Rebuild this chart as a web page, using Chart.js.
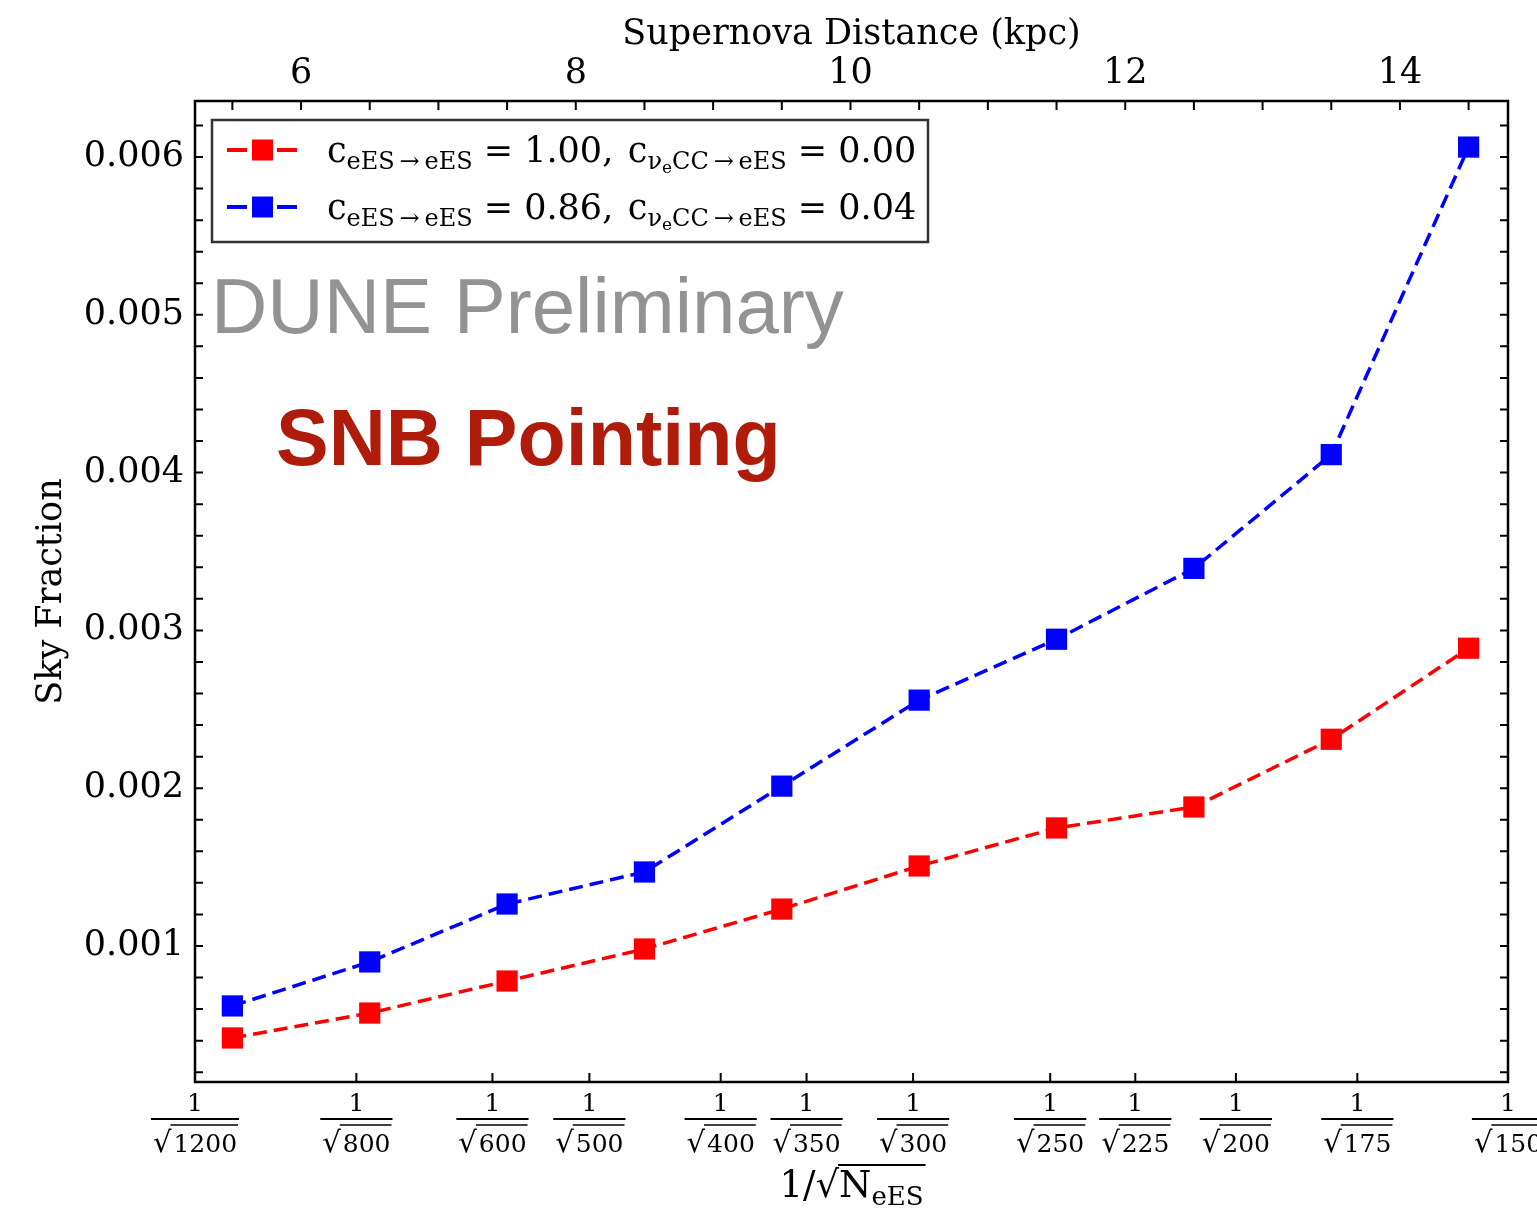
<!DOCTYPE html>
<html>
<head>
<meta charset="utf-8">
<title>SNB Pointing</title>
<script src="https://cdn.jsdelivr.net/npm/chart.js@4.4.0/dist/chart.umd.min.js"></script>
<style>
    html, body { margin: 0; padding: 0; background: #ffffff; }
    #chart-container { width: 1537px; height: 1208px; }
</style>
</head>
<body>
<div id="chart-container"><canvas id="skyChart" width="1537" height="1208"></canvas></div>
<script>
// supernova distance of each point (kpc)
const distanceKpc = [5.5, 6.5, 7.5, 8.5, 9.5, 10.5, 11.5, 12.5, 13.5, 14.5];
// sky fraction, c_eES->eES = 1.00, c_nueCC->eES = 0.00
const skyFractionRed = [0.000417, 0.000575, 0.000778, 0.000981, 0.001234, 0.001507, 0.001748, 0.001881, 0.00231, 0.002887];
// sky fraction, c_eES->eES = 0.86, c_nueCC->eES = 0.04
const skyFractionBlue = [0.00062, 0.000899, 0.001266, 0.001469, 0.002013, 0.002558, 0.002944, 0.003393, 0.004114, 0.006063];

const legendValues = [['1.00', '0.00'], ['0.86', '0.04']];
const seriesColors = ['#ff0000', '#0000ff'];

const topTickLabels = [6, 8, 10, 12, 14];
const yTickLabels = [0.001, 0.002, 0.003, 0.004, 0.005, 0.006];
const eventCounts = [1200, 800, 600, 500, 400, 350, 300, 250, 225, 200, 175, 150];

// distance = kpcPerInvSqrt / sqrt(N)
const kpcPerInvSqrt = 181.1;
const yRange = [0.000138, 0.006355];

const SERIF = '"DejaVu Serif", serif';

function drawRich(ctx, x, y, parts) {
    parts.forEach(function (p) {
        ctx.font = p.size + 'px ' + SERIF;
        ctx.fillText(p.t, x, y + (p.dy || 0));
        x += ctx.measureText(p.t).width;
    });
    return x;
}

const decorPlugin = {
    id: 'decor',
    afterDraw: function (chart) {
        const ctx = chart.ctx;
        const area = chart.chartArea;
        const xTop = chart.scales.x;
        const xBot = chart.scales.x2;
        const y = chart.scales.y;
        ctx.save();

        // inward ticks
        ctx.strokeStyle = '#000';
        ctx.lineWidth = 2;
        ctx.beginPath();
        xTop.ticks.forEach(function (t) {
            const px = xTop.getPixelForValue(t.value);
            ctx.moveTo(px, area.top);
            ctx.lineTo(px, area.top + 9);
        });
        xBot.ticks.forEach(function (t) {
            const px = xBot.getPixelForValue(t.value);
            ctx.moveTo(px, area.bottom);
            ctx.lineTo(px, area.bottom - 9);
        });
        y.ticks.forEach(function (t) {
            const py = y.getPixelForValue(t.value);
            ctx.moveTo(area.left, py);
            ctx.lineTo(area.left + 8, py);
            ctx.moveTo(area.right, py);
            ctx.lineTo(area.right - 8, py);
        });
        ctx.stroke();

        // frame
        ctx.lineWidth = 2.5;
        ctx.strokeRect(area.left, area.top, area.right - area.left, area.bottom - area.top);

        // bottom fraction labels 1/sqrt(N)
        ctx.fillStyle = '#000';
        ctx.textBaseline = 'alphabetic';
        eventCounts.forEach(function (n) {
            const px = xBot.getPixelForValue(1 / Math.sqrt(n));
            ctx.font = '25px ' + SERIF;
            const digitsW = ctx.measureText(String(n)).width;
            ctx.font = '29px ' + SERIF;
            const rootW = ctx.measureText('\u221A').width;
            const w = digitsW + rootW + 2;
            ctx.textAlign = 'center';
            ctx.font = '25px ' + SERIF;
            ctx.fillText('1', px, 1111);
            ctx.lineWidth = 2;
            ctx.beginPath();
            ctx.moveTo(px - w / 2 - 2, 1119);
            ctx.lineTo(px + w / 2 + 2, 1119);
            ctx.stroke();
            ctx.textAlign = 'left';
            const x0 = px - w / 2;
            ctx.font = '29px ' + SERIF;
            ctx.fillText('\u221A', x0, 1152);
            ctx.font = '25px ' + SERIF;
            ctx.fillText(String(n), x0 + rootW + 2, 1152);
            ctx.lineWidth = 1.5;
            ctx.beginPath();
            ctx.moveTo(x0 + rootW - 1, 1125);
            ctx.lineTo(x0 + w + 1, 1125);
            ctx.stroke();
        });

        // bottom axis title 1/sqrt(N_eES)
        ctx.textAlign = 'left';
        const nW = (function () {
            ctx.font = '37px ' + SERIF;
            let w = ctx.measureText('N').width;
            ctx.font = '26px ' + SERIF;
            return w + ctx.measureText('eES').width;
        })();
        ctx.font = '37px ' + SERIF;
        const preW = ctx.measureText('1/\u221A').width;
        const tx = (area.left + area.right) / 2 - (preW + nW) / 2;
        let cx = drawRich(ctx, tx, 1197, [{ t: '1/', size: 37 }, { t: '\u221A', size: 37 }]);
        const overStart = cx;
        cx = drawRich(ctx, cx, 1197, [{ t: 'N', size: 37 }, { t: 'eES', size: 26, dy: 8 }]);
        ctx.lineWidth = 2;
        ctx.beginPath();
        ctx.moveTo(overStart - 1, 1165);
        ctx.lineTo(cx + 2, 1165);
        ctx.stroke();

        // legend
        ctx.fillStyle = '#ffffff';
        ctx.fillRect(212, 120, 716, 122);
        ctx.strokeStyle = '#333333';
        ctx.lineWidth = 2.5;
        ctx.strokeRect(212, 120, 716, 122);
        [150, 207].forEach(function (rowY, i) {
            ctx.strokeStyle = seriesColors[i];
            ctx.fillStyle = seriesColors[i];
            ctx.lineWidth = 4;
            ctx.beginPath();
            ctx.moveTo(227, rowY);
            ctx.lineTo(247, rowY);
            ctx.moveTo(277, rowY);
            ctx.lineTo(297, rowY);
            ctx.stroke();
            ctx.fillRect(252, rowY - 10.5, 21, 21);
            ctx.fillStyle = '#000';
            const base = rowY + 12;
            drawRich(ctx, 327, base, [
                { t: 'c', size: 35 },
                { t: 'eES\u2009\u2192\u2009eES', size: 24, dy: 7 },
                { t: ' = ' + legendValues[i][0] + ', \u200Ac', size: 35 },
                { t: '\u03BD', size: 24, dy: 7 },
                { t: 'e', size: 17, dy: 11 },
                { t: 'CC\u2009\u2192\u2009eES', size: 24, dy: 7 },
                { t: ' = ' + legendValues[i][1], size: 35 }
            ]);
        });

        // annotations
        ctx.fillStyle = '#939393';
        ctx.font = '78px "Liberation Sans", Arial, sans-serif';
        ctx.fillText('DUNE Preliminary', 211, 333);
        ctx.fillStyle = '#b01c0c';
        ctx.font = 'bold 79px "Liberation Sans", Arial, sans-serif';
        ctx.fillText('SNB Pointing', 276, 465);

        ctx.restore();
    }
};

function makeSeries(label, values, color) {
    return {
        label: label,
        data: distanceKpc.map(function (d, i) { return { x: d, y: values[i] }; }),
        borderColor: color,
        backgroundColor: color,
        borderWidth: 3.5,
        borderDash: [14, 7],
        pointStyle: 'rect',
        pointRadius: 15,
        pointBorderWidth: 0,
        xAxisID: 'x',
        yAxisID: 'y'
    };
}

const canvas = document.getElementById('skyChart');
const skyChart = new Chart(canvas, {
    type: 'line',
    data: {
        datasets: [
            makeSeries('c_eES=1.00, c_nueCC=0.00', skyFractionRed, seriesColors[0]),
            makeSeries('c_eES=0.86, c_nueCC=0.04', skyFractionBlue, seriesColors[1])
        ]
    },
    options: {
        responsive: false,
        animation: false,
        layout: { padding: { left: 0, right: 29, top: 0, bottom: 0 } },
        plugins: { legend: { display: false }, tooltip: { enabled: false } },
        scales: {
            x: {
                type: 'linear',
                position: 'top',
                min: kpcPerInvSqrt / Math.sqrt(1200),
                max: kpcPerInvSqrt / Math.sqrt(150),
                grid: { display: false, drawTicks: false },
                border: { display: false },
                afterBuildTicks: function (scale) {
                    const t = [];
                    for (let v = 5.5; v <= 14.5; v += 0.5) t.push({ value: v });
                    scale.ticks = t;
                },
                afterFit: function (scale) { scale.height = 101; },
                ticks: {
                    autoSkip: false,
                    maxRotation: 0,
                    padding: 6,
                    color: '#000',
                    font: { family: SERIF, size: 35 },
                    callback: function (v) { return topTickLabels.indexOf(v) >= 0 ? String(v) : ''; }
                },
                title: {
                    display: true,
                    text: 'Supernova Distance (kpc)',
                    color: '#000',
                    font: { family: SERIF, size: 35 },
                    padding: { top: 14, bottom: 0 }
                }
            },
            x2: {
                type: 'linear',
                position: 'bottom',
                min: 1 / Math.sqrt(1200),
                max: 1 / Math.sqrt(150),
                grid: { display: false, drawTicks: false },
                border: { display: false },
                afterBuildTicks: function (scale) {
                    scale.ticks = eventCounts.map(function (n) { return { value: 1 / Math.sqrt(n) }; });
                },
                afterFit: function (scale) { scale.height = 126; },
                ticks: { display: false }
            },
            y: {
                type: 'linear',
                position: 'left',
                min: yRange[0],
                max: yRange[1],
                grid: { display: false, drawTicks: false },
                border: { display: false },
                afterBuildTicks: function (scale) {
                    const t = [];
                    for (let k = 1; k <= 31; k++) t.push({ value: k * 0.0002 });
                    scale.ticks = t;
                },
                afterFit: function (scale) { scale.width = 195; },
                ticks: {
                    autoSkip: false,
                    padding: 11,
                    color: '#000',
                    font: { family: SERIF, size: 35 },
                    callback: function (v) {
                        const m = v * 1000;
                        return Math.abs(m - Math.round(m)) < 1e-6 ? v.toFixed(3) : '';
                    }
                },
                title: {
                    display: true,
                    text: 'Sky Fraction',
                    color: '#000',
                    font: { family: SERIF, size: 35 },
                    padding: { top: 31, bottom: 0 }
                }
            }
        }
    },
    plugins: [decorPlugin]
});
</script>
</body>
</html>
